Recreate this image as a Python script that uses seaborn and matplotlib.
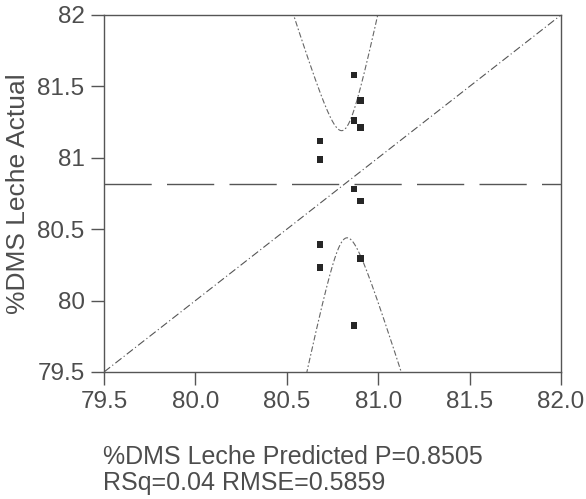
import numpy as np
import pandas as pd
import matplotlib
matplotlib.use("Agg")
import matplotlib.pyplot as plt
import seaborn as sns

# Predicted value for each of the three groups and the observed responses
predicted_levels = [80.682, 80.868, 80.902]
actual_g1 = [81.118, 80.987, 80.391, 80.230]
actual_g2 = [81.580, 81.260, 80.782, 79.827]
actual_g3 = [81.400, 81.211, 80.697, 80.296]

x_ticks = [79.5, 80.0, 80.5, 81.0, 81.5, 82.0]
x_tick_labels = ["79.5", "80.0", "80.5", "81.0", "81.5", "82.0"]
y_ticks = [79.5, 80.0, 80.5, 81.0, 81.5, 82.0]
y_tick_labels = ["79.5", "80", "80.5", "81", "81.5", "82"]

# Whole-model fit summary
rmse = 0.5859
p_value = 0.8505
rsq = 0.04
n_obs = 12
t_crit = 2.262   # t(0.975; 9 df)
f_crit = 4.256   # F(0.95; 2, 9)
f_ratio = 0.165  # model F ratio

sns.set_theme(style="ticks")
plt.rcParams["font.family"] = ["Liberation Sans", "DejaVu Sans"]

text_col = "#4d4d4d"
line_col = "#555555"

df = pd.DataFrame({
    "predicted": np.repeat(predicted_levels, 4),
    "actual": actual_g1 + actual_g2 + actual_g3,
})
mean_actual = df["actual"].mean()

# Confidence curves around the actual = predicted line
xs = np.linspace(x_ticks[0], x_ticks[-1], 2001)
half = np.sqrt((t_crit * rmse) ** 2 / n_obs + (f_crit / f_ratio) * (xs - mean_actual) ** 2)
curves = pd.DataFrame({"x": xs, "upper": xs + half, "lower": xs - half})

fig = plt.figure(figsize=(5.86, 4.99), dpi=100)
ax = fig.add_axes([104 / 586, 1 - 372 / 499, 457 / 586, 357 / 499])

# Mean of the response
ax.axhline(mean_actual, color=line_col, lw=1.0, dashes=(34, 11), zorder=1)

# Fit line actual = predicted
diag = pd.DataFrame({"x": [x_ticks[0], x_ticks[-1]], "y": [y_ticks[0], y_ticks[-1]]})
sns.lineplot(data=diag, x="x", y="y", ax=ax, color=line_col, lw=0.8,
             linestyle=(0, (7, 2.5, 1, 2.5)), estimator=None)

for col in ["upper", "lower"]:
    sns.lineplot(data=curves, x="x", y=col, ax=ax, color="#666666", lw=0.8,
                 linestyle=(0, (5, 2, 1.5, 2)), estimator=None)

sns.scatterplot(data=df, x="predicted", y="actual", ax=ax, marker="s", s=24,
                color="#262626", edgecolor="none", zorder=3)

ax.set_xlim(x_ticks[0], x_ticks[-1])
ax.set_ylim(y_ticks[0], y_ticks[-1])
ax.set_xticks(x_ticks)
ax.set_xticklabels(x_tick_labels)
ax.set_yticks(y_ticks)
ax.set_yticklabels(y_tick_labels)

for sp in ax.spines.values():
    sp.set_visible(True)
    sp.set_color(line_col)
    sp.set_linewidth(1.0)

ax.tick_params(axis="both", direction="out", length=9.5, width=1.0,
               color=line_col, labelcolor=text_col, labelsize=17.5, pad=4.5)

ax.set_xlabel("")
ax.set_ylabel("%DMS Leche Actual", fontsize=19, color=text_col, va="center")
ax.yaxis.set_label_coords(-0.188, 0.5)

fig.text(103 / 586, 1 - 457 / 499, f"%DMS Leche Predicted P={p_value:.4f}",
         ha="left", va="center", fontsize=18, color=text_col)
fig.text(103 / 586, 1 - 483 / 499, f"RSq={rsq:.2f} RMSE={rmse:.4f}",
         ha="left", va="center", fontsize=18, color=text_col)

fig.savefig("out.png", dpi=100)
